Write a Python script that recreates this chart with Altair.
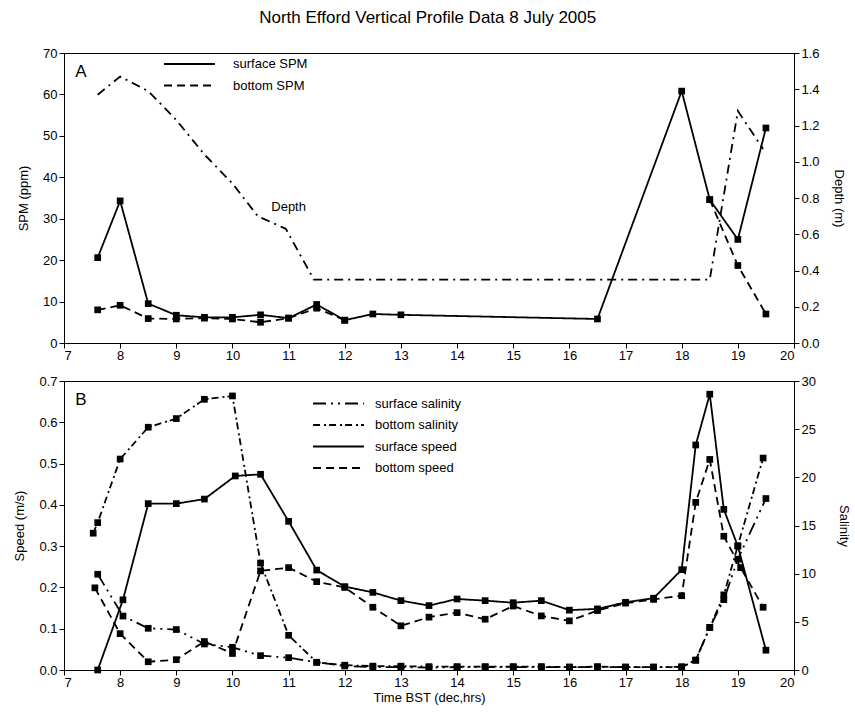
import altair as alt
import pandas as pd

FONT = "Liberation Sans"

# ---------------- Panel A data ----------------
spm_surface_time = [7.6, 8.0, 8.5, 9.0, 9.5, 10.0, 10.5, 11.0, 11.5, 12.0, 12.5, 13.0, 16.5, 18.0, 18.5, 19.0, 19.5]
spm_surface = [20.6, 34.3, 9.5, 6.7, 6.2, 6.2, 6.8, 6.0, 9.3, 5.5, 7.0, 6.8, 5.8, 60.8, 34.6, 25.0, 51.9]

spm_bottom_time_am = [7.6, 8.0, 8.5, 9.0, 9.5, 10.0, 10.5, 11.0, 11.5, 12.0]
spm_bottom_am = [8.0, 9.1, 5.9, 5.8, 6.0, 5.8, 5.0, 6.0, 8.4, 5.5]
spm_bottom_time_pm = [18.5, 19.0, 19.5]
spm_bottom_pm = [34.6, 18.7, 7.0]

depth_time = [7.6, 8.0, 8.5, 9.0, 9.5, 10.0, 10.45, 10.95, 11.45, 12.0, 12.5, 13.0, 16.5, 18.0, 18.5, 19.0, 19.45]
depth = [1.37, 1.47, 1.39, 1.23, 1.04, 0.88, 0.70, 0.63, 0.35, 0.35, 0.35, 0.35, 0.35, 0.35, 0.35, 1.28, 1.07]

# ---------------- Panel B data ----------------
speed_surface_time = [7.6, 8.05, 8.5, 9.0, 9.5, 10.05, 10.5, 11.0, 11.5, 12.0, 12.5, 13.0, 13.5, 14.0,
                      14.5, 15.0, 15.5, 16.0, 16.5, 17.0, 17.5, 18.0, 18.25, 18.5, 18.75, 19.0, 19.5]
speed_surface = [0.0, 0.17, 0.403, 0.403, 0.414, 0.47, 0.474, 0.36, 0.242, 0.202, 0.188, 0.168, 0.156, 0.172,
                 0.168, 0.163, 0.168, 0.145, 0.148, 0.164, 0.174, 0.243, 0.545, 0.668, 0.389, 0.30, 0.048]

speed_bottom_time = [7.55, 8.0, 8.5, 9.0, 9.5, 10.0, 10.5, 11.0, 11.5, 12.0, 12.5, 13.0, 13.5, 14.0,
                     14.5, 15.0, 15.5, 16.0, 16.5, 17.0, 17.5, 18.0, 18.25, 18.5, 18.75, 19.05, 19.45]
speed_bottom = [0.199, 0.088, 0.02, 0.025, 0.069, 0.04, 0.24, 0.248, 0.214, 0.20, 0.152, 0.107, 0.128, 0.139,
                0.123, 0.155, 0.131, 0.119, 0.144, 0.162, 0.171, 0.18, 0.406, 0.51, 0.324, 0.248, 0.152]

sal_bottom_time = [7.52, 7.6, 8.0, 8.5, 9.0, 9.5, 10.0, 10.5, 11.0, 11.5, 12.0, 12.5, 13.0, 13.5, 14.0,
                   14.5, 15.0, 15.5, 16.0, 16.5, 17.0, 17.5, 18.0, 18.25, 18.5, 18.75, 19.0, 19.45]
sal_bottom = [14.2, 15.3, 21.9, 25.2, 26.1, 28.1, 28.45, 11.1, 3.6, 0.8, 0.5, 0.4, 0.4, 0.35, 0.35,
              0.35, 0.35, 0.35, 0.3, 0.35, 0.3, 0.3, 0.3, 1.0, 4.4, 7.8, 12.9, 22.0]

sal_surface_time = [7.6, 8.05, 8.5, 9.0, 9.5, 10.0, 10.5, 11.0, 11.5, 12.0, 12.5, 13.0, 13.5, 14.0,
                    14.5, 15.0, 15.5, 16.0, 16.5, 17.0, 17.5, 18.0, 18.25, 18.5, 18.75, 19.0, 19.5]
sal_surface = [9.94, 5.6, 4.33, 4.2, 2.7, 2.36, 1.49, 1.28, 0.8, 0.42, 0.3, 0.3, 0.25, 0.3,
               0.3, 0.3, 0.3, 0.3, 0.3, 0.3, 0.3, 0.34, 1.04, 4.43, 7.3, 11.5, 17.8]

x_ticks = list(range(7, 21))
spm_ticks = list(range(0, 71, 10))
depth_ticks = [0.0, 0.2, 0.4, 0.6, 0.8, 1.0, 1.2, 1.4, 1.6]
speed_ticks = [0.0, 0.1, 0.2, 0.3, 0.4, 0.5, 0.6, 0.7]
sal_ticks = [0, 5, 10, 15, 20, 25, 30]

# ---------------- tables ----------------
spm_df = pd.concat([
    pd.DataFrame({"t": spm_surface_time, "v": spm_surface, "series": "surface SPM", "seg": "s"}),
    pd.DataFrame({"t": spm_bottom_time_am, "v": spm_bottom_am, "series": "bottom SPM", "seg": "b1"}),
    pd.DataFrame({"t": spm_bottom_time_pm, "v": spm_bottom_pm, "series": "bottom SPM", "seg": "b2"}),
], ignore_index=True)
depth_df = pd.DataFrame({"t": depth_time, "d": depth})
speed_df = pd.concat([
    pd.DataFrame({"t": speed_surface_time, "v": speed_surface, "series": "surface speed"}),
    pd.DataFrame({"t": speed_bottom_time, "v": speed_bottom, "series": "bottom speed"}),
], ignore_index=True)
sal_df = pd.concat([
    pd.DataFrame({"t": sal_surface_time, "s": sal_surface, "series": "surface salinity"}),
    pd.DataFrame({"t": sal_bottom_time, "s": sal_bottom, "series": "bottom salinity"}),
], ignore_index=True)

label_a_df = pd.DataFrame({"t": [7.2], "v": [65.5], "txt": ["A"]})
label_b_df = pd.DataFrame({"t": [7.2], "v": [0.655], "txt": ["B"]})
depth_label_df = pd.DataFrame({"t": [11.0], "d": [0.75], "txt": ["Depth"]})

W, H = 730, 290
LW = 1.8
MS = 45
xscale = alt.Scale(domain=[7, 20], nice=False, zero=False)


def xenc(title=None):
    return alt.X("t:Q", scale=xscale,
                 axis=alt.Axis(values=x_ticks, format="d", title=title, labelPadding=1,
                               titlePadding=2))


legend_common = dict(
    orient="none", title=None, symbolType="M-4,0H4", symbolSize=162,
    symbolStrokeWidth=LW, symbolStrokeColor="black", labelFont=FONT, labelFontSize=13,
    rowPadding=6.5, padding=0, labelColor="black",
)

# ---------------- Panel A ----------------
dash_a = alt.Scale(domain=["surface SPM", "bottom SPM"], range=[[1, 0], [8, 5]])
ya = alt.Y("v:Q", scale=alt.Scale(domain=[0, 70], nice=False),
           axis=alt.Axis(orient="left", values=spm_ticks, title="SPM (ppm)", titlePadding=12))

spm_lines = alt.Chart(spm_df).mark_line(color="black", strokeWidth=LW).encode(
    x=xenc(), y=ya,
    strokeDash=alt.StrokeDash("series:N", scale=dash_a,
                              legend=alt.Legend(legendX=118, legendY=3.5, labelOffset=36, **legend_common)),
    detail="seg:N",
)
spm_pts = alt.Chart(spm_df).mark_square(size=MS, color="black", opacity=1).encode(x=xenc(), y=ya)
a_txt = alt.Chart(label_a_df).mark_text(font=FONT, fontSize=17, align="left", color="black").encode(
    x=xenc(), y=ya, text="txt:N")
left_a = alt.layer(spm_lines, spm_pts, a_txt)

yd = alt.Y("d:Q", scale=alt.Scale(domain=[0, 1.6], nice=False),
           axis=alt.Axis(orient="right", values=depth_ticks, format=".1f", title="Depth (m)", titlePadding=12))
depth_line = alt.Chart(depth_df).mark_line(color="black", strokeWidth=LW, strokeDash=[9, 5, 2, 5]).encode(
    x=xenc(), y=yd)
depth_txt = alt.Chart(depth_label_df).mark_text(font=FONT, fontSize=13, color="black").encode(
    x=xenc(), y=yd, text="txt:N")
right_a = alt.layer(depth_line, depth_txt)

panel_a = alt.layer(left_a, right_a).resolve_scale(y="independent").properties(width=W, height=H)

# ---------------- Panel B ----------------
dash_b = alt.Scale(domain=["surface salinity", "bottom salinity", "surface speed", "bottom speed"],
                   range=[[13, 5, 2, 5, 2, 5], [7, 4, 2, 3], [1, 0], [8, 5]])
legend_b = alt.Legend(legendX=267, legendY=15, labelOffset=29, **legend_common)
yb = alt.Y("v:Q", scale=alt.Scale(domain=[0, 0.7], nice=False),
           axis=alt.Axis(orient="left", values=speed_ticks, format=".1f", title="Speed (m/s)", titlePadding=12))
speed_lines = alt.Chart(speed_df).mark_line(color="black", strokeWidth=LW).encode(
    x=xenc("Time BST (dec,hrs)"), y=yb,
    strokeDash=alt.StrokeDash("series:N", scale=dash_b, legend=legend_b),
)
speed_pts = alt.Chart(speed_df).mark_square(size=MS, color="black", opacity=1).encode(
    x=xenc("Time BST (dec,hrs)"), y=yb)
b_txt = alt.Chart(label_b_df).mark_text(font=FONT, fontSize=17, align="left", color="black").encode(
    x=xenc("Time BST (dec,hrs)"), y=yb, text="txt:N")
left_b = alt.layer(speed_lines, speed_pts, b_txt)

ys = alt.Y("s:Q", scale=alt.Scale(domain=[0, 30], nice=False),
           axis=alt.Axis(orient="right", values=sal_ticks, format="d", title="Salinity", titlePadding=21))
sal_lines = alt.Chart(sal_df).mark_line(color="black", strokeWidth=LW).encode(
    x=xenc("Time BST (dec,hrs)"), y=ys,
    strokeDash=alt.StrokeDash("series:N", scale=dash_b, legend=legend_b),
)
sal_pts = alt.Chart(sal_df).mark_square(size=MS, color="black", opacity=1).encode(
    x=xenc("Time BST (dec,hrs)"), y=ys)
right_b = alt.layer(sal_lines, sal_pts)

panel_b = alt.layer(left_b, right_b).resolve_scale(y="independent").properties(width=W, height=H - 1)

chart = alt.vconcat(panel_a, panel_b, spacing=11).resolve_scale(
    strokeDash="independent").resolve_legend(strokeDash="independent").properties(
    title=alt.TitleParams("North Efford Vertical Profile Data 8 July 2005", font=FONT, fontSize=17,
                          fontWeight="normal", anchor="middle", offset=20, dx=-4, color="black"),
    padding={"left": 13, "top": 8, "right": 5, "bottom": 5},
).configure_view(stroke="black", strokeWidth=1).configure_axis(
    domainColor="black", tickColor="black", labelColor="black", titleColor="black",
    labelFont=FONT, titleFont=FONT, labelFontSize=13, titleFontSize=13, titleFontWeight="normal",
    grid=False, tickSize=5, domainWidth=1, tickWidth=1,
)

chart.save("out.html", embed_options={"renderer": "svg", "actions": False})
